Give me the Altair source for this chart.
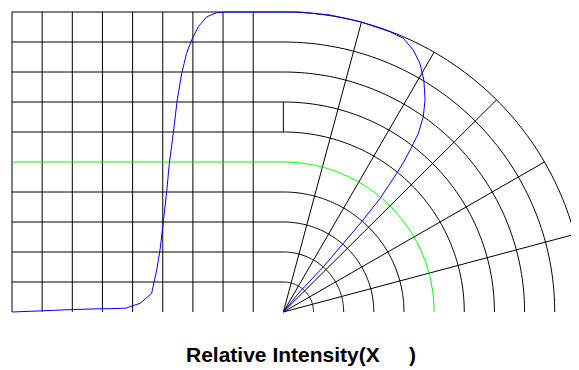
import numpy as np
import pandas as pd
import altair as alt

# ---- structure of the combined cartesian / polar grid (data units) ----
grid_x = [0, 1, 2, 3, 4, 5, 6, 7, 8]          # vertical grid lines (left part)
radii = [1, 2, 3, 4, 5, 6, 7, 8, 9, 10]       # horizontal lines that turn into arcs
spoke_angles = [15, 30, 45, 60, 75]           # radial lines, degrees from vertical
center_x = 9                                   # polar origin on the baseline
green_radius = 5
segment_y = [6, 7]                             # short vertical piece at the origin column

# ---- blue curve ----
blue_x = [0.0, 0.99, 1.98, 2.98, 3.25, 3.80, 3.91, 4.25, 4.63, 4.80, 4.91, 5.02, 5.13,
          5.22, 5.35, 5.48, 5.63, 5.79, 5.96, 6.18, 6.46, 6.79, 7.12, 7.97, 9.0,
          9.55, 10.55, 11.54, 12.54, 12.98, 13.31, 13.53, 13.66, 13.70, 13.64, 13.48,
          13.26, 13.03, 12.76, 12.21, 11.60, 10.99, 10.33, 9.55, 9.0]
blue_y = [0.0, 0.04, 0.08, 0.11, 0.11, 0.13, 0.18, 0.29, 0.62, 1.40, 2.07, 3.01, 4.01,
          4.96, 5.96, 7.07, 7.96, 8.62, 9.07, 9.51, 9.84, 9.98, 10.0, 10.0, 10.0,
          10.0, 9.90, 9.68, 9.34, 9.12, 8.73, 8.29, 7.73, 7.07, 6.51, 5.96,
          5.51, 5.07, 4.62, 3.79, 3.01, 2.29, 1.51, 0.68, 0.0]

title_text = "Relative Intensity(X" + "\u00a0" * 5 + ")"

# ---- build tables ----
vert = pd.DataFrame({"x": grid_x, "y": 0, "y2": radii[-1]})

rows = []
arc_deg = np.linspace(0, 90, 91)
for r in radii:
    pts = [(0.0, r), (center_x, r)]
    for a in arc_deg:
        t = np.radians(a)
        pts.append((center_x + r * np.sin(t), r * np.cos(t)))
    for i, (px, py) in enumerate(pts):
        rows.append({"r": r, "i": i, "x": px, "y": py})
rings = pd.DataFrame(rows)
black_rings = rings[rings["r"] != green_radius]
green_ring = rings[rings["r"] == green_radius]

spokes = pd.DataFrame({
    "x": [center_x] * len(spoke_angles),
    "y": [0] * len(spoke_angles),
    "x2": [center_x + radii[-1] * np.sin(np.radians(a)) for a in spoke_angles],
    "y2": [radii[-1] * np.cos(np.radians(a)) for a in spoke_angles],
})

seg = pd.DataFrame({"x": [center_x], "y": [segment_y[0]], "y2": [segment_y[1]]})

blue = pd.DataFrame({"x": blue_x, "y": blue_y, "i": range(len(blue_x))})

xs = alt.Scale(domain=[0, 18.54], nice=False, zero=False)
ys = alt.Scale(domain=[0, 10], nice=False, zero=False)
x_axis = alt.Axis(title=title_text, labels=False, ticks=False, domain=False, grid=False,
                  titleFont="Liberation Sans", titleFontSize=21, titleFontWeight="bold",
                  titleColor="#000000", titleX=173.5, titleY=49, titleAlign="left",
                  titleBaseline="alphabetic", titleAnchor="start")

base_x = alt.X("x:Q", scale=xs, axis=x_axis)
base_y = alt.Y("y:Q", scale=ys, axis=None)

l_vert = alt.Chart(vert).mark_rule(color="#000000", strokeWidth=1).encode(
    x=base_x, y=base_y, y2="y2:Q")

l_rings = alt.Chart(black_rings).mark_line(color="#000000", strokeWidth=1).encode(
    x=base_x, y=base_y, detail="r:N", order="i:Q")

l_spokes = alt.Chart(spokes).mark_rule(color="#000000", strokeWidth=1).encode(
    x=base_x, y=base_y, x2="x2:Q", y2="y2:Q")

l_seg = alt.Chart(seg).mark_rule(color="#000000", strokeWidth=1).encode(
    x=base_x, y=base_y, y2="y2:Q")

l_green = alt.Chart(green_ring).mark_line(color="#00ff00", strokeWidth=1).encode(
    x=base_x, y=base_y, order="i:Q")

l_blue = alt.Chart(blue).mark_line(color="#0000ff", strokeWidth=1).encode(
    x=base_x, y=base_y, order="i:Q")

chart = alt.layer(l_vert, l_rings, l_spokes, l_seg, l_green, l_blue).properties(
    width=559, height=300,
    padding={"left": 4, "top": 4, "right": 0, "bottom": 56},
    autosize=alt.AutoSizeParams(type="none"),
    background="#ffffff",
).configure_view(stroke=None)

chart.save("out.html", embed_options={"renderer": "svg", "actions": False})
